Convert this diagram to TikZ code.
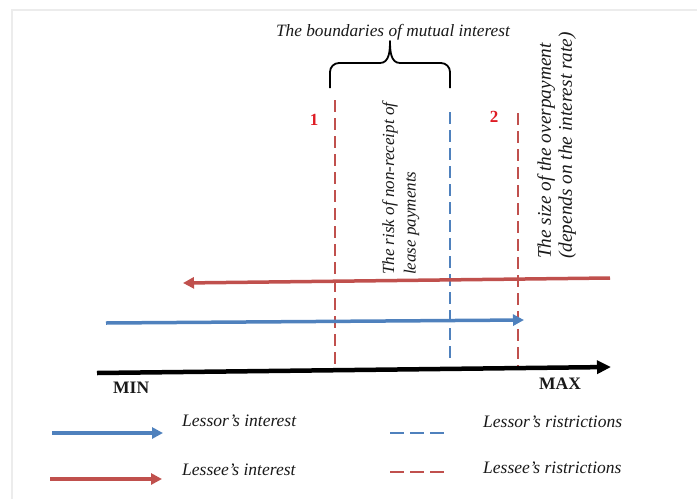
\documentclass[tikz,border=0pt]{standalone}
\usepackage{fontspec}
\setmainfont{Liberation Serif}
\usetikzlibrary{arrows.meta}
\definecolor{redc}{RGB}{192,80,77}
\definecolor{bluec}{RGB}{79,129,189}
\definecolor{numred}{RGB}{222,28,36}
\definecolor{txt}{RGB}{25,25,25}
\definecolor{framec}{RGB}{236,236,236}
\begin{document}
\begin{tikzpicture}[x=1pt,y=-1pt,
  lbl/.style={font=\fontsize{17.5}{21}\selectfont\itshape, text=txt, inner sep=0pt},
  rotlbl/.style={lbl, rotate=90, anchor=north west, align=left},
  bold/.style={font=\fontsize{17.5}{20}\selectfont\bfseries, text=txt, inner sep=0pt, anchor=base west},
  num/.style={font=\fontsize{17}{20}\selectfont\bfseries, text=numred, inner sep=0pt, anchor=base},
  redlim/.style={draw=redc, line width=1.5pt, dash pattern=on 12pt off 6pt},
  bluelim/.style={draw=bluec, line width=1.5pt, dash pattern=on 12pt off 6pt},
  legdash/.style={line width=1.8pt, dash pattern=on 14pt off 6pt},
  interest/.style={line width=3.5pt, -{Triangle[length=11pt,width=11pt]}},
  axisline/.style={line width=4.5pt, draw=black, -{Triangle[length=14pt,width=13pt]}},
  bracepath/.style={draw=black, line width=1.8pt, line join=round}
]
\useasboundingbox (0,0) rectangle (697,499);
% faint frame
\draw[framec, line width=1.5pt] (12,499) -- (12,10) -- (697,10);

% title and brace
\node[lbl, anchor=base, font=\fontsize{17.3}{21}\selectfont\itshape] (title) at (393,36) {The boundaries of mutual interest};
\coordinate (bl) at (330,88);
\coordinate (br) at (450,88);
\coordinate (btip) at (390,41);
\draw[bracepath] (bl) -- (330,72) to[out=90,in=180] (339,63) -- (380,63)
  to[out=0,in=270] (btip) to[out=270,in=180] (400,63) -- (441,63)
  to[out=0,in=90] (450,72) -- (br);

% limit lines
\coordinate (l1t) at (335,100); \coordinate (l1b) at (335,370);
\coordinate (lbt) at (450,112); \coordinate (lbb) at (450,360);
\coordinate (l2t) at (518,113); \coordinate (l2b) at (518,370);
\draw[redlim] (l1t) -- (l1b);
\draw[bluelim] (lbt) -- (lbb);
\draw[redlim] (l2t) -- (l2b);
\node[num] (n1) at (314,125) {1};
\node[num] (n2) at (494,122) {2};

% rotated labels
\node[rotlbl, font=\fontsize{17}{21.5}\selectfont\itshape] (risk) at (382,275) {The risk of non-receipt of\\lease payments};
\node[rotlbl, font=\fontsize{19.3}{21}\selectfont\itshape] (size) at (537,259) {The size of the overpayment\\(depends on the interest rate)};

% interest arrows
\coordinate (rs) at (610,278); \coordinate (re) at (183,283);
\draw[interest, draw=redc, fill=redc] (rs) -- (re);
\coordinate (bs) at (106,323); \coordinate (be) at (524,320);
\draw[interest, draw=bluec, fill=bluec] (bs) -- (be);

% axis
\coordinate (as) at (97,373); \coordinate (ae) at (611,367);
\draw[axisline] (as) -- (ae);
\node[bold] (min) at (113,393) {MIN};
\node[bold] (max) at (539,389) {MAX};

% legend
\coordinate (lg1a) at (52,433); \coordinate (lg1b) at (163,433);
\draw[interest, draw=bluec, fill=bluec] (lg1a) -- (lg1b);
\node[lbl, anchor=base west] (t1) at (182,426) {Lessor’s interest};
\coordinate (lg2a) at (50,479); \coordinate (lg2b) at (162,479);
\draw[interest, draw=redc, fill=redc] (lg2a) -- (lg2b);
\node[lbl, anchor=base west] (t2) at (182,475) {Lessee’s interest};
\coordinate (lg3a) at (390,433); \coordinate (lg3b) at (445,433);
\draw[legdash, draw=bluec] (lg3a) -- (lg3b);
\node[lbl, anchor=base west] (t3) at (483,427) {Lessor’s ristrictions};
\coordinate (lg4a) at (390,472); \coordinate (lg4b) at (444,472);
\draw[legdash, draw=redc] (lg4a) -- (lg4b);
\node[lbl, anchor=base west] (t4) at (483,473) {Lessee’s ristrictions};
\end{tikzpicture}
\end{document}
